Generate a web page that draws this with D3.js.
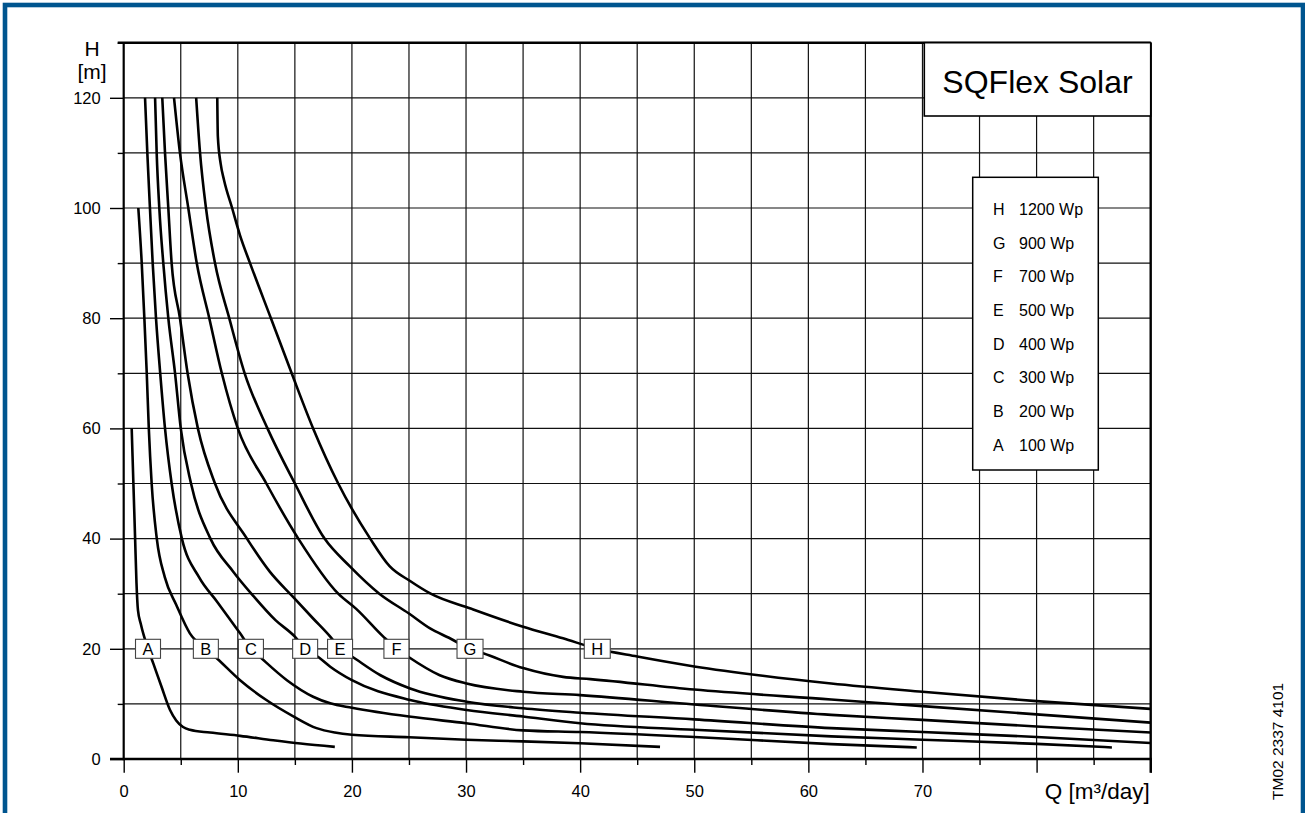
<!DOCTYPE html>
<html>
<head>
<meta charset="utf-8">
<script src="https://cdn.jsdelivr.net/npm/d3@7"></script>
<style>
  html, body { margin: 0; padding: 0; background: #fff; }
  svg { display: block; font-family: "Liberation Sans", Arial, Helvetica, sans-serif; }
</style>
</head>
<body>
<svg id="chart" width="1305" height="813"></svg>
<script>
// ---------------- data ----------------
const xTickLabels = [0, 10, 20, 30, 40, 50, 60, 70];
const yTickLabels = [0, 20, 40, 60, 80, 100, 120];
const seriesKeys = ["A", "B", "C", "D", "E", "F", "G", "H"];
const seriesPower = ["100 Wp", "200 Wp", "300 Wp", "400 Wp", "500 Wp", "700 Wp", "900 Wp", "1200 Wp"];
const labelQ = [2.13, 7.2, 11.15, 15.9, 18.96, 23.9, 30.35, 41.5];
const labelH = 20;

// each curve: [Q m3/day, H m]
const curveA = [[0.7,60],[0.85,50],[1.0,40],[1.12,32],[1.25,27],[1.5,24.5],[2.13,20],[2.6,17.3],[3.3,13.2],[4.06,8.9],[4.6,7.0],[5.2,5.8],[5.8,5.3],[7.56,4.8],[10.2,4.2],[13.1,3.4],[15.5,2.8],[18.5,2.2]];
const curveB = [[1.28,100],[1.58,90],[1.81,80],[2.02,70],[2.2,60],[2.45,50],[2.9,40],[3.6,33],[4.6,28],[5.8,22.8],[7.2,20],[8.15,18.3],[10.2,14.3],[12.5,10.7],[14.9,7.7],[16.9,5.6],[18.5,4.8],[20,4.4],[25,3.94],[30,3.5],[35,3.2],[40,2.85],[47,2.2]];
const curveC = [[1.87,120],[2.07,110],[2.3,100],[2.54,90],[2.83,80],[3.2,70],[3.62,60],[4.2,50],[5.1,40],[6.6,33],[8.2,28.5],[10.2,22.8],[11.15,20],[11.95,18.5],[14.3,14.3],[16.6,11.3],[18.1,10.1],[20,9.3],[25,7.7],[30,6.5],[35,5.2],[40,4.9],[50,4.0],[62,2.7],[69.5,2.1]];
const curveD = [[2.75,120],[2.89,110],[3.12,100],[3.47,90],[3.91,80],[4.5,70],[5.0,60],[5.9,50],[7.6,40],[9.6,34],[11.4,29.5],[13.3,25.2],[15.0,22.2],[15.9,20],[17.05,18.5],[18.1,16.75],[20,14.3],[25.1,10.7],[30.05,8.9],[35,7.7],[40,6.5],[50,5.3],[62,4.1],[70,3.5],[80,2.75],[86.6,2.1]];
const curveE = [[3.38,120],[3.62,110],[3.91,100],[4.2,90],[4.93,80],[5.6,70],[6.5,60],[8.0,50],[10.8,40],[12.8,34],[14.8,29.5],[16.6,25.5],[18.1,22.2],[18.96,20],[20,18.6],[22.5,15.2],[25.1,12.8],[30.05,10.4],[35,9.2],[40,8.4],[50,7.2],[62,5.6],[70,4.9],[80,4.0],[90,2.9]];
const curveF = [[4.41,120],[4.93,110],[5.66,100],[6.4,90],[7.5,80],[8.6,70],[10.0,60],[12.5,50],[15.3,40],[18.8,30],[20.4,27.2],[22.75,22.2],[23.93,20],[24.9,18.6],[27.7,15.2],[30.05,13.7],[35,12.2],[40,11.6],[50,9.9],[62,8.0],[70,7.1],[80,5.9],[90,4.8]];
const curveG = [[6.35,120],[6.69,110],[7.21,100],[8.0,90],[9.25,80],[10.6,70],[12.6,60],[15.0,50],[17.6,40],[19.8,35],[22.4,30],[25,26.4],[26.85,23.7],[28.5,22],[30.35,20],[31.5,19.2],[35,16.5],[38.5,14.9],[40.9,14.5],[50,12.6],[62,10.8],[70,9.6],[80,8.1],[90,6.6]];
const curveH = [[8.2,120],[8.25,113],[8.5,108],[8.8,105],[9.5,100],[10.2,95],[11.07,90],[12.9,80],[14.72,70],[16.6,60],[18.8,50],[21.6,40],[23.3,35],[25.1,32.3],[26.9,30],[30.4,27.3],[35,24],[38.5,21.9],[41.5,20],[45,18.6],[50,16.8],[56,15.1],[62,13.7],[70,12.2],[80,10.5],[90,9.1]];
const curves = [curveA, curveB, curveC, curveD, curveE, curveF, curveG, curveH];

// ---------------- layout ----------------
const svg = d3.select("#chart");
const X0 = 123.7, X1 = 1150.7, Y0 = 759, Y1 = 42.7;
const x = d3.scaleLinear().domain([0, 90]).range([X0, X1]);
const y = d3.scaleLinear().domain([0, 130]).range([Y0, Y1]);

// grid
const grid = svg.append("g");
d3.range(5, 90, 5).forEach(v => {
  grid.append("line").attr("x1", x(v)).attr("x2", x(v)).attr("y1", y(130)).attr("y2", y(0))
    .attr("stroke", "#111").attr("stroke-width", 1.2);
});
d3.range(10, 130, 10).forEach(v => {
  grid.append("line").attr("x1", x(0)).attr("x2", x(90)).attr("y1", y(v)).attr("y2", y(v))
    .attr("stroke", "#111").attr("stroke-width", 1.2);
});

// axes (d3 axis generators for ticks)
const xMajor = d3.axisBottom(x).tickValues(d3.range(0, 91, 10)).tickSize(13.7)
  .tickFormat(d => xTickLabels.includes(d) ? d : "");
const xMinor = d3.axisBottom(x).tickValues(d3.range(5, 90, 10)).tickSize(6).tickFormat("");
const yMajor = d3.axisLeft(y).tickValues(yTickLabels).tickSize(13.7).tickFormat(d => d);
const yMinor = d3.axisLeft(y).tickValues(d3.range(10, 131, 20)).tickSize(6).tickFormat("");

function styleAxis(g) {
  g.select(".domain").remove();
  g.selectAll(".tick line").attr("stroke", "#000").attr("stroke-width", 1.4);
  g.selectAll(".tick text").attr("font-size", 16.5).attr("fill", "#000")
    .attr("font-family", "Liberation Sans, Arial, sans-serif");
}
const gxM = svg.append("g").attr("transform", `translate(0,${Y0})`).call(xMajor).call(styleAxis);
gxM.selectAll(".tick text").attr("y", 32.5).attr("dy", "0.35em");
svg.append("g").attr("transform", `translate(0,${Y0})`).call(xMinor).call(styleAxis);
const gyM = svg.append("g").attr("transform", `translate(${X0},0)`).call(yMajor).call(styleAxis);
gyM.selectAll(".tick text").attr("x", -23);
svg.append("g").attr("transform", `translate(${X0},0)`).call(yMinor).call(styleAxis);

// frame of plot
svg.append("line").attr("x1", x(0)).attr("x2", x(0)).attr("y1", y(130)).attr("y2", y(0) + 1.3)
  .attr("stroke", "#000").attr("stroke-width", 2.2);
svg.append("line").attr("x1", x(90)).attr("x2", x(90)).attr("y1", y(130)).attr("y2", y(0) + 13.7)
  .attr("stroke", "#000").attr("stroke-width", 2.4);
svg.append("line").attr("x1", x(0) - 6).attr("x2", x(90)).attr("y1", y(130)).attr("y2", y(130))
  .attr("stroke", "#000").attr("stroke-width", 2.4);
svg.append("line").attr("x1", x(0) - 13.7).attr("x2", x(90) + 1.2).attr("y1", y(0)).attr("y2", y(0))
  .attr("stroke", "#000").attr("stroke-width", 2.6);

// axis titles
svg.append("text").attr("x", 92).attr("y", 56).attr("text-anchor", "middle")
  .attr("font-size", 21).text("H");
svg.append("text").attr("x", 92).attr("y", 79).attr("text-anchor", "middle")
  .attr("font-size", 21).text("[m]");
svg.append("text").attr("x", X1 - 1).attr("y", 799).attr("text-anchor", "end")
  .attr("font-size", 22.5).text("Q [m³/day]");

// curves
const line = d3.line().x(d => x(d[0])).y(d => y(d[1])).curve(d3.curveMonotoneX);
svg.append("g").selectAll("path").data(curves).join("path")
  .attr("d", line).attr("fill", "none").attr("stroke", "#000")
  .attr("stroke-width", 2.6).attr("stroke-linejoin", "round");

// curve label boxes
const lab = svg.append("g").selectAll("g").data(seriesKeys).join("g")
  .attr("transform", (d, i) => `translate(${x(labelQ[i])},${y(labelH)})`);
lab.append("rect").attr("x", d => (d === "G" || d === "H") ? -13 : -12.5).attr("y", -9.5)
  .attr("width", d => (d === "G" || d === "H") ? 26 : 25).attr("height", 19)
  .attr("fill", "#fff").attr("stroke", "#444").attr("stroke-width", 1.1);
lab.append("text").attr("text-anchor", "middle").attr("dy", "0.36em")
  .attr("font-size", 16.5).text(d => d);

// title box
svg.append("rect").attr("x", 924.3).attr("y", Y1).attr("width", X1 - 924.3).attr("height", 116 - Y1)
  .attr("fill", "#fff").attr("stroke", "#000").attr("stroke-width", 1.6);
svg.append("text").attr("x", 1037.5).attr("y", 93).attr("text-anchor", "middle")
  .attr("font-size", 32).text("SQFlex Solar");

// legend box
svg.append("rect").attr("x", 972.7).attr("y", 177.3).attr("width", 125.6).attr("height", 292.7)
  .attr("fill", "#fff").attr("stroke", "#000").attr("stroke-width", 1.5);
const legOrder = d3.range(seriesKeys.length - 1, -1, -1);
const leg = svg.append("g").selectAll("g").data(legOrder).join("g")
  .attr("transform", (d, j) => `translate(0,${209.3 + j * 33.67})`);
leg.append("text").attr("x", 993).attr("dy", "0.36em").attr("font-size", 16)
  .text(i => seriesKeys[i]);
leg.append("text").attr("x", 1019).attr("dy", "0.36em").attr("font-size", 16)
  .text(i => seriesPower[i]);

// drawing number
svg.append("text").attr("transform", "translate(1283,800) rotate(-90)")
  .attr("font-size", 15.5).text("TM02 2337 4101");

// outer blue frame
svg.append("rect").attr("x", 5).attr("y", 5).attr("width", 1298).attr("height", 1000)
  .attr("fill", "none").attr("stroke", "#00558f").attr("stroke-width", 4.6);
</script>
</body>
</html>
